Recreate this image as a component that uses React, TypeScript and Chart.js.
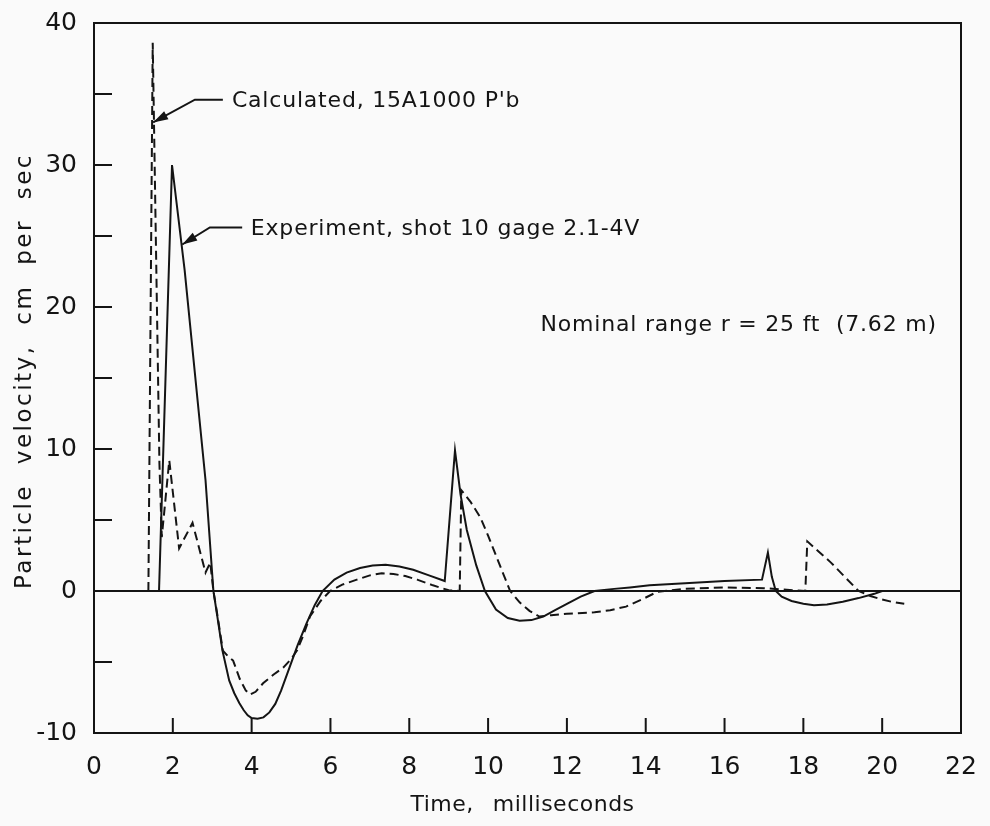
import React, { useEffect, useRef } from "react";
import { Chart, registerables } from "chart.js";

Chart.register(...registerables);

// ---- Data ----
// Calculated, 15A1000 P'b (dashed)
const calcTime = [
  1.38, 1.49, 1.66, 1.72, 1.91, 2.16, 2.5, 2.83, 2.95, 3.03, 3.12, 3.27, 3.4, 3.53,
  3.7, 3.85, 3.96, 4.1, 4.29, 4.55, 4.8, 5.0, 5.15, 5.3, 5.48, 5.75, 5.99, 6.3,
  6.67, 7.0, 7.3, 7.6, 7.9, 8.2, 8.6, 9.0, 9.28, 9.32, 9.55, 9.8, 10.0, 10.2,
  10.4, 10.56, 10.8, 11.05, 11.3, 11.6, 12.0, 12.7, 13.1, 13.5, 13.9, 14.3, 15.0,
  16.0, 17.0, 18.05, 18.1, 18.4, 18.7, 19.05, 19.4, 19.7, 20.0, 20.3, 20.56,
];
const calcVelocity = [
  0, 38.6, 9.0, 3.8, 9.2, 3.0, 4.8, 1.3, 2.0, 0, -1.5, -4.2, -4.6, -4.9,
  -6.2, -7.0, -7.3, -7.1, -6.5, -5.9, -5.4, -4.8, -4.2, -3.2, -1.8, -0.7, 0, 0.45,
  0.8, 1.1, 1.25, 1.2, 1.05, 0.8, 0.4, 0.05, 0, 7.1, 6.3, 5.2, 3.9, 2.5,
  1.1, 0, -0.8, -1.4, -1.8, -1.7, -1.6, -1.5, -1.35, -1.1, -0.6, -0.05, 0.15,
  0.25, 0.2, 0, 3.5, 2.75, 2.0, 1.0, 0, -0.35, -0.6, -0.8, -0.9,
];

// Experiment, shot 10 gage 2.1-4V (solid)
const expTime = [
  1.65, 1.98, 2.3, 2.83, 3.03, 3.13, 3.26, 3.43, 3.56, 3.69, 3.8, 3.9, 4.0, 4.15,
  4.3, 4.45, 4.6, 4.75, 4.96, 5.17, 5.39, 5.6, 5.8, 6.1, 6.41, 6.75, 7.07, 7.4,
  7.75, 8.1, 8.5, 8.9, 9.16, 9.3, 9.46, 9.7, 9.92, 10.2, 10.5, 10.8, 11.1, 11.4,
  11.7, 12.0, 12.35, 12.7, 13.2, 13.6, 14.1, 15.0, 16.0, 16.95, 17.1, 17.2, 17.3,
  17.45, 17.7, 18.0, 18.27, 18.6, 19.0, 19.4, 19.8, 20.0,
];
const expVelocity = [
  0, 30, 22.6, 7.8, 0, -1.8, -4.2, -6.3, -7.2, -7.9, -8.4, -8.75, -8.95, -9.0,
  -8.9, -8.55, -7.95, -7.0, -5.4, -3.8, -2.3, -1.0, 0, 0.8, 1.3, 1.62, 1.8, 1.85,
  1.72, 1.5, 1.1, 0.7, 9.9, 6.8, 4.3, 1.8, 0, -1.3, -1.9, -2.1, -2.05, -1.8,
  -1.35, -0.9, -0.4, 0, 0.15, 0.25, 0.4, 0.55, 0.7, 0.8, 2.7, 1.0, 0,
  -0.4, -0.7, -0.9, -1.0, -0.95, -0.75, -0.5, -0.2, 0,
];

// Axis ranges / ticks
const xRange = [0, 22];
const xStep = 2;
const yRange = [-10, 40];
const yStep = 5;
const yLabelStep = 10;

// Texts
const calcLabel = "Calculated, 15A1000 P'b";
const expLabel = "Experiment, shot 10 gage 2.1-4V";
const rangeLabel = "Nominal range r = 25 ft  (7.62 m)";
const xTitle = "Time,  milliseconds";
const yTitle = "Particle velocity, cm per sec";

// ---- Styling / annotation placement (data coordinates) ----
const INK = "#141414";
const FONT = "DejaVu Sans";

const callouts = [
  { text: calcLabel, tip: [1.5, 33.0], elbow: [2.56, 34.6], end: [3.27, 34.6], at: [3.5, 34.5] },
  { text: expLabel, tip: [2.24, 24.4], elbow: [2.94, 25.6], end: [3.76, 25.6], at: [3.98, 25.5] },
];
const freeNotes = [{ text: rangeLabel, at: [11.33, 18.7] }];

function zip(xs: number[], ys: number[]) {
  return xs.map((x, i) => ({ x, y: ys[i] }));
}

const decorPlugin = {
  id: "decor",
  afterDatasetsDraw(chart: any) {
    const { ctx, chartArea: a, scales } = chart;
    const xs = scales.x;
    const ys = scales.y;
    const px = (v: number) => xs.getPixelForValue(v);
    const py = (v: number) => ys.getPixelForValue(v);
    ctx.save();
    ctx.strokeStyle = INK;
    ctx.fillStyle = INK;
    ctx.lineWidth = 2;
    ctx.lineCap = "butt";
    // frame
    ctx.strokeRect(a.left, a.top, a.right - a.left, a.bottom - a.top);
    // inner tick marks
    ctx.beginPath();
    ys.ticks.forEach((t: any) => {
      const y = py(t.value);
      ctx.moveTo(a.left, y);
      ctx.lineTo(a.left + 18, y);
    });
    xs.ticks.forEach((t: any) => {
      const x = px(t.value);
      ctx.moveTo(x, a.bottom);
      ctx.lineTo(x, a.bottom - 15);
    });
    ctx.stroke();

    // callouts with leader arrows
    ctx.font = `22px "${FONT}"`;
    (ctx as any).letterSpacing = "0.8px";
    ctx.textBaseline = "middle";
    ctx.textAlign = "left";
    callouts.forEach((c) => {
      const tx = px(c.tip[0]);
      const ty = py(c.tip[1]);
      const ex = px(c.elbow[0]);
      const ey = py(c.elbow[1]);
      ctx.lineWidth = 2;
      ctx.beginPath();
      ctx.moveTo(px(c.end[0]), py(c.end[1]));
      ctx.lineTo(ex, ey);
      ctx.lineTo(tx, ty);
      ctx.stroke();
      const ang = Math.atan2(ty - ey, tx - ex);
      const len = 15;
      const hw = 4.5;
      const bx = tx - Math.cos(ang) * len;
      const by = ty - Math.sin(ang) * len;
      ctx.beginPath();
      ctx.moveTo(tx, ty);
      ctx.lineTo(bx + Math.sin(ang) * hw, by - Math.cos(ang) * hw);
      ctx.lineTo(bx - Math.sin(ang) * hw, by + Math.cos(ang) * hw);
      ctx.closePath();
      ctx.fill();
      ctx.fillText(c.text, px(c.at[0]), py(c.at[1]));
    });
    freeNotes.forEach((n) => {
      ctx.fillText(n.text, px(n.at[0]), py(n.at[1]));
    });
    ctx.restore();
  },
  afterDraw(chart: any) {
    const { ctx, chartArea: a } = chart;
    ctx.save();
    ctx.fillStyle = INK;
    ctx.textAlign = "center";
    ctx.textBaseline = "middle";
    (ctx as any).letterSpacing = "0.5px";
    (ctx as any).wordSpacing = "2px";
    ctx.font = `22px "${FONT}"`;
    ctx.fillText(xTitle, (a.left + a.right) / 2 - 5, a.bottom + 72);
    ctx.translate(25, (a.top + a.bottom) / 2 - 7);
    ctx.rotate(-Math.PI / 2);
    (ctx as any).letterSpacing = "2.5px";
    (ctx as any).wordSpacing = "10px";
    ctx.font = `23px "${FONT}"`;
    ctx.fillText(yTitle, 0, 0);
    ctx.restore();
  },
};

export default function App() {
  const canvasRef = useRef<HTMLCanvasElement | null>(null);

  useEffect(() => {
    const canvas = canvasRef.current;
    if (!canvas) return;
    const chart = new Chart(canvas, {
      type: "line",
      data: {
        datasets: [
          {
            label: calcLabel,
            data: zip(calcTime, calcVelocity),
            borderColor: INK,
            borderWidth: 2,
            borderDash: [9, 5],
            pointRadius: 0,
            fill: false,
            tension: 0,
          },
          {
            label: expLabel,
            data: zip(expTime, expVelocity),
            borderColor: INK,
            borderWidth: 2,
            pointRadius: 0,
            fill: false,
            tension: 0,
          },
        ],
      },
      options: {
        responsive: false,
        animation: false,
        layout: { padding: { top: 23, right: 29, left: 0, bottom: 0 } },
        plugins: {
          legend: { display: false },
          tooltip: { enabled: false },
          title: { display: false },
        },
        scales: {
          x: {
            type: "linear",
            min: xRange[0],
            max: xRange[1],
            border: { display: false },
            grid: { display: false, drawTicks: false },
            ticks: {
              stepSize: xStep,
              autoSkip: false,
              maxRotation: 0,
              padding: 19,
              color: INK,
              font: { family: FONT, size: 25 },
            },
            afterFit: (s: any) => {
              s.height = 93;
              s.paddingLeft = 0;
              s.paddingRight = 0;
            },
          },
          y: {
            type: "linear",
            min: yRange[0],
            max: yRange[1],
            border: { display: false },
            grid: {
              drawTicks: false,
              lineWidth: 2,
              color: (c: any) => (c.tick && c.tick.value === 0 ? INK : "rgba(0,0,0,0)"),
            },
            ticks: {
              stepSize: yStep,
              autoSkip: false,
              padding: 17,
              color: INK,
              font: { family: FONT, size: 25 },
              callback: (v: any) => (Number(v) % yLabelStep === 0 ? String(v) : ""),
            },
            afterFit: (s: any) => {
              s.width = 94;
              s.paddingTop = 0;
              s.paddingBottom = 0;
            },
          },
        },
      },
      plugins: [decorPlugin],
    });
    return () => chart.destroy();
  }, []);

  return (
    <div
      style={{
        position: "absolute",
        left: 0,
        top: 0,
        width: 990,
        height: 826,
        background: "#fafafa",
      }}
    >
      <canvas ref={canvasRef} width={990} height={826} style={{ display: "block", width: 990, height: 826 }} />
    </div>
  );
}
